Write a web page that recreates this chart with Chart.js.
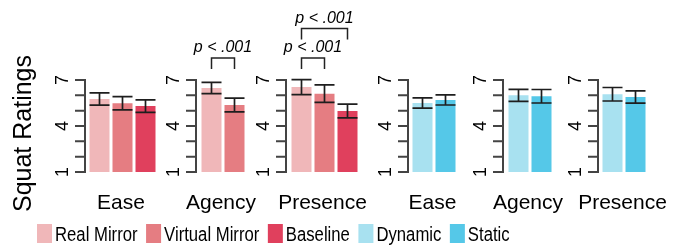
<html>
  <head>
    <style>
      body { margin: 0; background: #fff; }
      #wrap { position: relative; width: 683px; height: 247px; }
      #wrap canvas { position: absolute; left: 0; top: 0; }
    </style>
  </head>
  <body>
    <div id="wrap">
      <canvas id="c0" width="683" height="247"></canvas>
      <canvas id="c1" width="683" height="247"></canvas>
      <canvas id="c2" width="683" height="247"></canvas>
      <canvas id="c3" width="683" height="247"></canvas>
      <canvas id="c4" width="683" height="247"></canvas>
      <canvas id="c5" width="683" height="247"></canvas>
    </div>

    <script src="https://cdn.jsdelivr.net/npm/chart.js"></script>

    <script>
      // conditions
      var mirrorLabels = ["Real Mirror", "Virtual Mirror", "Baseline"];
      var avatarLabels = ["Dynamic", "Static"];
      var mirrorColors = ["#F0B7B9", "#E57D82", "#E0405D"];
      var avatarColors = ["#A8E1F0", "#55C8E8"];
      var yTickLabels = [1, 4, 7];

      // mean ratings and error (+/-)
      var mirrorEase = [5.76, 5.48, 5.3];
      var mirrorEaseErr = [0.4, 0.43, 0.41];
      var mirrorAgency = [6.48, 5.37];
      var mirrorAgencyErr = [0.37, 0.45];
      var mirrorPresence = [6.54, 6.11, 4.98];
      var mirrorPresenceErr = [0.49, 0.57, 0.45];
      var avatarEase = [5.5, 5.7];
      var avatarEaseErr = [0.34, 0.33];
      var avatarAgency = [6.0, 5.94];
      var avatarAgencyErr = [0.39, 0.44];
      var avatarPresence = [6.07, 5.89];
      var avatarPresenceErr = [0.44, 0.4];

      // significance brackets: [from bar, to bar, text]
      var agencySig = [[0, 1, "p < .001"]];
      var presenceSig = [
        [0, 1, "p < .001"],
        [0, 2, "p < .001"],
      ];

      var FONT = "'Liberation Sans', Arial, sans-serif";
      var SLOT = 23;

      var panels = [
        { title: "Ease", labels: mirrorLabels, colors: mirrorColors, data: mirrorEase, err: mirrorEaseErr, sig: [], left: 88, gap: 3 },
        { title: "Agency", labels: mirrorLabels.slice(0, 2), colors: mirrorColors, data: mirrorAgency, err: mirrorAgencyErr, sig: agencySig, left: 200, gap: 4 },
        { title: "Presence", labels: mirrorLabels, colors: mirrorColors, data: mirrorPresence, err: mirrorPresenceErr, sig: presenceSig, left: 290, gap: 4 },
        { title: "Ease", labels: avatarLabels, colors: avatarColors, data: avatarEase, err: avatarEaseErr, sig: [], left: 411, gap: 3 },
        { title: "Agency", labels: avatarLabels, colors: avatarColors, data: avatarAgency, err: avatarAgencyErr, sig: [], left: 507, gap: 4 },
        { title: "Presence", labels: avatarLabels, colors: avatarColors, data: avatarPresence, err: avatarPresenceErr, sig: [], left: 601, gap: 3 },
      ];

      // error bars, R-style axis, panel label, brackets
      var panelPlugin = {
        id: "panel",
        afterDatasetsDraw(chart, args, opts) {
          var ctx = chart.ctx;
          var y = chart.scales.y;
          var area = chart.chartArea;
          var meta = chart.getDatasetMeta(0);
          var ds = chart.data.datasets[0];
          ctx.save();

          ctx.strokeStyle = "#1e1e1e";
          ctx.lineWidth = 1.7;
          meta.data.forEach((bar, i) => {
            var top = y.getPixelForValue(ds.data[i] + ds.errors[i]);
            var bot = y.getPixelForValue(ds.data[i] - ds.errors[i]);
            var hw = bar.width / 2;
            ctx.beginPath();
            ctx.moveTo(bar.x, top);
            ctx.lineTo(bar.x, bot);
            ctx.moveTo(bar.x - hw, top);
            ctx.lineTo(bar.x + hw, top);
            ctx.moveTo(bar.x - hw, bot);
            ctx.lineTo(bar.x + hw, bot);
            ctx.stroke();
          });

          var ax = area.left - opts.gap;
          ctx.strokeStyle = "#444";
          ctx.lineWidth = 2;
          ctx.beginPath();
          ctx.moveTo(ax, y.getPixelForValue(y.min) + 1);
          ctx.lineTo(ax, y.getPixelForValue(y.max) - 1);
          for (var v = y.min; v <= y.max; v++) {
            var py = y.getPixelForValue(v);
            ctx.moveTo(ax - 10, py);
            ctx.lineTo(ax, py);
          }
          ctx.stroke();

          ctx.fillStyle = "#000";
          ctx.font = "18px " + FONT;
          ctx.textAlign = "center";
          ctx.textBaseline = "middle";
          yTickLabels.forEach((t) => {
            ctx.save();
            ctx.translate(ax - 22, y.getPixelForValue(t));
            ctx.rotate(-Math.PI / 2);
            ctx.fillText(String(t), 0, 0);
            ctx.restore();
          });

          ctx.font = "21px " + FONT;
          ctx.textBaseline = "alphabetic";
          ctx.fillText(opts.title, (ax + area.right) / 2, 208.5);

          ctx.strokeStyle = "#222";
          ctx.lineWidth = 1.5;
          ctx.font = "italic 16px " + FONT;
          opts.sig.forEach((s) => {
            var level = s[1] - s[0] - 1;
            var x0 = meta.data[s[0]].x;
            var x1 = meta.data[s[1]].x;
            var bTop = area.top - 22 - level * 29.5;
            ctx.beginPath();
            ctx.moveTo(x0, bTop + 11);
            ctx.lineTo(x0, bTop);
            ctx.lineTo(x1, bTop);
            ctx.lineTo(x1, bTop + 11);
            ctx.stroke();
            ctx.fillText(s[2], (x0 + x1) / 2, bTop - 6);
          });
          ctx.restore();
        },
      };

      // y title and legend strip, drawn once on the first chart
      var framePlugin = {
        id: "frame",
        afterDraw(chart) {
          var ctx = chart.ctx;
          ctx.save();
          ctx.fillStyle = "#000";
          ctx.font = "25px " + FONT;
          ctx.textAlign = "center";
          ctx.textBaseline = "alphabetic";
          ctx.translate(31, 133.5);
          ctx.rotate(-Math.PI / 2);
          ctx.fillText("Squat Ratings", 0, 0);
          ctx.restore();

          var names = mirrorLabels.concat(avatarLabels);
          var colors = mirrorColors.concat(avatarColors);
          var x = 37;
          ctx.save();
          ctx.font = "20px " + FONT;
          ctx.textBaseline = "alphabetic";
          names.forEach((name, i) => {
            ctx.fillStyle = colors[i];
            ctx.fillRect(x, 224, 15, 19);
            ctx.fillStyle = "#000";
            var w = ctx.measureText(name).width * 0.835;
            ctx.save();
            ctx.translate(x + 18, 240.5);
            ctx.scale(0.835, 1);
            ctx.fillText(name, 0, 0);
            ctx.restore();
            x += 18 + w + 8.5;
          });
          ctx.restore();
        },
      };

      panels.forEach((p, k) => {
        var n = p.data.length;
        var plugins = [panelPlugin];
        if (k === 0) plugins.push(framePlugin);
        new Chart(document.getElementById("c" + k), {
          type: "bar",
          data: {
            labels: p.labels,
            datasets: [
              {
                data: p.data,
                errors: p.err,
                backgroundColor: p.colors.slice(0, n),
                barPercentage: 20 / SLOT,
                categoryPercentage: 1,
              },
            ],
          },
          options: {
            responsive: false,
            animation: false,
            devicePixelRatio: 1,
            layout: {
              padding: { left: p.left, right: 683 - p.left - n * SLOT, top: 80, bottom: 75 },
            },
            scales: {
              x: { display: false },
              y: { display: false, min: 1, max: 7 },
            },
            plugins: {
              legend: { display: false },
              tooltip: { enabled: false },
              panel: { gap: p.gap, title: p.title, sig: p.sig },
            },
          },
          plugins: plugins,
        });
      });
    </script>
  </body>
</html>
